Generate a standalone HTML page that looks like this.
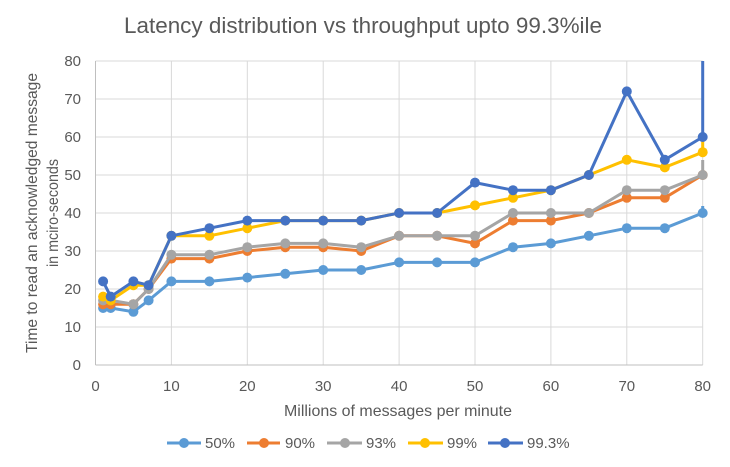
<!DOCTYPE html>
<html><head><meta charset="utf-8"><style>
html,body{margin:0;padding:0;background:#fff;}
svg{display:block;}
text{font-family:"Liberation Sans",sans-serif;fill:#595959;}
</style></head><body>
<svg width="730" height="467" viewBox="0 0 730 467" xmlns="http://www.w3.org/2000/svg">
<rect width="730" height="467" fill="#fff"/>
<text x="363" y="33" font-size="22" text-anchor="middle" textLength="478" lengthAdjust="spacingAndGlyphs">Latency distribution vs throughput upto 99.3%ile</text>
<g stroke="#d9d9d9" stroke-width="1">
<line x1="95.5" x2="702.7" y1="327" y2="327"/>
<line x1="95.5" x2="702.7" y1="289" y2="289"/>
<line x1="95.5" x2="702.7" y1="251" y2="251"/>
<line x1="95.5" x2="702.7" y1="213" y2="213"/>
<line x1="95.5" x2="702.7" y1="175" y2="175"/>
<line x1="95.5" x2="702.7" y1="137" y2="137"/>
<line x1="95.5" x2="702.7" y1="99" y2="99"/>
<line x1="95.5" x2="702.7" y1="61" y2="61"/>
<line y1="61" y2="365" x1="171.4" x2="171.4"/>
<line y1="61" y2="365" x1="247.3" x2="247.3"/>
<line y1="61" y2="365" x1="323.2" x2="323.2"/>
<line y1="61" y2="365" x1="399.1" x2="399.1"/>
<line y1="61" y2="365" x1="475" x2="475"/>
<line y1="61" y2="365" x1="550.9" x2="550.9"/>
<line y1="61" y2="365" x1="626.8" x2="626.8"/>
<line y1="61" y2="365" x1="702.7" x2="702.7"/>
</g>
<g stroke="#bfbfbf" stroke-width="1">
<line x1="95.5" x2="702.7" y1="365" y2="365"/>
<line x1="95.5" x2="95.5" y1="61" y2="365"/>
</g>
<g font-size="15" text-anchor="end">
<text x="81" y="370">0</text><text x="81" y="332">10</text><text x="81" y="294">20</text><text x="81" y="256">30</text><text x="81" y="218">40</text><text x="81" y="180">50</text><text x="81" y="142">60</text><text x="81" y="104">70</text><text x="81" y="66">80</text>
</g>
<g font-size="15" text-anchor="middle">
<text x="95.5" y="391">0</text><text x="171.4" y="391">10</text><text x="247.3" y="391">20</text><text x="323.2" y="391">30</text><text x="399.1" y="391">40</text><text x="475" y="391">50</text><text x="550.9" y="391">60</text><text x="626.8" y="391">70</text><text x="702.7" y="391">80</text>
</g>
<text x="398" y="416" font-size="16" text-anchor="middle" textLength="228" lengthAdjust="spacingAndGlyphs">Millions of messages per minute</text>
<g transform="translate(37,213) rotate(-90)" font-size="16" text-anchor="middle">
<text x="0" y="0" textLength="280" lengthAdjust="spacingAndGlyphs">Time to read an acknowledged message</text>
<text x="0" y="21" textLength="108" lengthAdjust="spacingAndGlyphs">in mciro-seconds</text>
</g>
<defs><clipPath id="pc"><rect x="90" y="61" width="620" height="310"/></clipPath></defs>
<g clip-path="url(#pc)" fill="none" stroke-width="3" stroke-linejoin="round">
<polyline stroke="#5b9bd5" points="103.1,308 110.7,308 133.4,311.8 148.6,300.4 171.4,281.4 209.4,281.4 247.3,277.6 285.3,273.8 323.2,270 361.2,270 399.1,262.4 437.1,262.4 475,262.4 513,247.2 550.9,243.4 588.9,235.8 626.8,228.2 664.8,228.2 702.7,213 702.7,206"/>
<g fill="#5b9bd5" stroke="none">
<circle cx="103.1" cy="308" r="5"/><circle cx="110.7" cy="308" r="5"/><circle cx="133.4" cy="311.8" r="5"/><circle cx="148.6" cy="300.4" r="5"/><circle cx="171.4" cy="281.4" r="5"/><circle cx="209.4" cy="281.4" r="5"/><circle cx="247.3" cy="277.6" r="5"/><circle cx="285.3" cy="273.8" r="5"/><circle cx="323.2" cy="270" r="5"/><circle cx="361.2" cy="270" r="5"/><circle cx="399.1" cy="262.4" r="5"/><circle cx="437.1" cy="262.4" r="5"/><circle cx="475" cy="262.4" r="5"/><circle cx="513" cy="247.2" r="5"/><circle cx="550.9" cy="243.4" r="5"/><circle cx="588.9" cy="235.8" r="5"/><circle cx="626.8" cy="228.2" r="5"/><circle cx="664.8" cy="228.2" r="5"/><circle cx="702.7" cy="213" r="5"/>
</g>
<polyline stroke="#ed7d31" points="103.1,304.2 110.7,304.2 133.4,304.2 148.6,289 171.4,258.6 209.4,258.6 247.3,251 285.3,247.2 323.2,247.2 361.2,251 399.1,235.8 437.1,235.8 475,243.4 513,220.6 550.9,220.6 588.9,213 626.8,197.8 664.8,197.8 702.7,175"/>
<g fill="#ed7d31" stroke="none">
<circle cx="103.1" cy="304.2" r="5"/><circle cx="110.7" cy="304.2" r="5"/><circle cx="133.4" cy="304.2" r="5"/><circle cx="148.6" cy="289" r="5"/><circle cx="171.4" cy="258.6" r="5"/><circle cx="209.4" cy="258.6" r="5"/><circle cx="247.3" cy="251" r="5"/><circle cx="285.3" cy="247.2" r="5"/><circle cx="323.2" cy="247.2" r="5"/><circle cx="361.2" cy="251" r="5"/><circle cx="399.1" cy="235.8" r="5"/><circle cx="437.1" cy="235.8" r="5"/><circle cx="475" cy="243.4" r="5"/><circle cx="513" cy="220.6" r="5"/><circle cx="550.9" cy="220.6" r="5"/><circle cx="588.9" cy="213" r="5"/><circle cx="626.8" cy="197.8" r="5"/><circle cx="664.8" cy="197.8" r="5"/><circle cx="702.7" cy="175" r="5"/>
</g>
<polyline stroke="#a5a5a5" points="103.1,300.4 110.7,300.4 133.4,304.2 148.6,289 171.4,254.8 209.4,254.8 247.3,247.2 285.3,243.4 323.2,243.4 361.2,247.2 399.1,235.8 437.1,235.8 475,235.8 513,213 550.9,213 588.9,213 626.8,190.2 664.8,190.2 702.7,175 702.7,160"/>
<g fill="#a5a5a5" stroke="none">
<circle cx="103.1" cy="300.4" r="5"/><circle cx="110.7" cy="300.4" r="5"/><circle cx="133.4" cy="304.2" r="5"/><circle cx="148.6" cy="289" r="5"/><circle cx="171.4" cy="254.8" r="5"/><circle cx="209.4" cy="254.8" r="5"/><circle cx="247.3" cy="247.2" r="5"/><circle cx="285.3" cy="243.4" r="5"/><circle cx="323.2" cy="243.4" r="5"/><circle cx="361.2" cy="247.2" r="5"/><circle cx="399.1" cy="235.8" r="5"/><circle cx="437.1" cy="235.8" r="5"/><circle cx="475" cy="235.8" r="5"/><circle cx="513" cy="213" r="5"/><circle cx="550.9" cy="213" r="5"/><circle cx="588.9" cy="213" r="5"/><circle cx="626.8" cy="190.2" r="5"/><circle cx="664.8" cy="190.2" r="5"/><circle cx="702.7" cy="175" r="5"/>
</g>
<polyline stroke="#ffc000" points="103.1,296.6 110.7,300.4 133.4,285.2 148.6,285.2 171.4,235.8 209.4,235.8 247.3,228.2 285.3,220.6 323.2,220.6 361.2,220.6 399.1,213 437.1,213 475,205.4 513,197.8 550.9,190.2 588.9,175 626.8,159.8 664.8,167.4 702.7,152.2 702.7,137"/>
<g fill="#ffc000" stroke="none">
<circle cx="103.1" cy="296.6" r="5"/><circle cx="110.7" cy="300.4" r="5"/><circle cx="133.4" cy="285.2" r="5"/><circle cx="148.6" cy="285.2" r="5"/><circle cx="171.4" cy="235.8" r="5"/><circle cx="209.4" cy="235.8" r="5"/><circle cx="247.3" cy="228.2" r="5"/><circle cx="285.3" cy="220.6" r="5"/><circle cx="323.2" cy="220.6" r="5"/><circle cx="361.2" cy="220.6" r="5"/><circle cx="399.1" cy="213" r="5"/><circle cx="437.1" cy="213" r="5"/><circle cx="475" cy="205.4" r="5"/><circle cx="513" cy="197.8" r="5"/><circle cx="550.9" cy="190.2" r="5"/><circle cx="588.9" cy="175" r="5"/><circle cx="626.8" cy="159.8" r="5"/><circle cx="664.8" cy="167.4" r="5"/><circle cx="702.7" cy="152.2" r="5"/>
</g>
<polyline stroke="#4472c4" points="103.1,281.4 110.7,296.6 133.4,281.4 148.6,285.2 171.4,235.8 209.4,228.2 247.3,220.6 285.3,220.6 323.2,220.6 361.2,220.6 399.1,213 437.1,213 475,182.6 513,190.2 550.9,190.2 588.9,175 626.8,91.4 664.8,159.8 702.7,137 702.7,40"/>
<g fill="#4472c4" stroke="none">
<circle cx="103.1" cy="281.4" r="5"/><circle cx="110.7" cy="296.6" r="5"/><circle cx="133.4" cy="281.4" r="5"/><circle cx="148.6" cy="285.2" r="5"/><circle cx="171.4" cy="235.8" r="5"/><circle cx="209.4" cy="228.2" r="5"/><circle cx="247.3" cy="220.6" r="5"/><circle cx="285.3" cy="220.6" r="5"/><circle cx="323.2" cy="220.6" r="5"/><circle cx="361.2" cy="220.6" r="5"/><circle cx="399.1" cy="213" r="5"/><circle cx="437.1" cy="213" r="5"/><circle cx="475" cy="182.6" r="5"/><circle cx="513" cy="190.2" r="5"/><circle cx="550.9" cy="190.2" r="5"/><circle cx="588.9" cy="175" r="5"/><circle cx="626.8" cy="91.4" r="5"/><circle cx="664.8" cy="159.8" r="5"/><circle cx="702.7" cy="137" r="5"/>
</g>
</g>
<g stroke-width="3">
<line x1="167" x2="201" y1="443" y2="443" stroke="#5b9bd5"/><circle cx="184" cy="443" r="5" fill="#5b9bd5"/>
<line x1="247" x2="280" y1="443" y2="443" stroke="#ed7d31"/><circle cx="264" cy="443" r="5" fill="#ed7d31"/>
<line x1="327" x2="362" y1="443" y2="443" stroke="#a5a5a5"/><circle cx="345" cy="443" r="5" fill="#a5a5a5"/>
<line x1="408" x2="443" y1="443" y2="443" stroke="#ffc000"/><circle cx="425" cy="443" r="5" fill="#ffc000"/>
<line x1="488" x2="523" y1="443" y2="443" stroke="#4472c4"/><circle cx="505" cy="443" r="5" fill="#4472c4"/>
</g>
<g font-size="15">
<text x="205" y="448">50%</text>
<text x="285" y="448">90%</text>
<text x="366" y="448">93%</text>
<text x="447" y="448">99%</text>
<text x="527" y="448">99.3%</text>
</g>
</svg>
</body></html>
